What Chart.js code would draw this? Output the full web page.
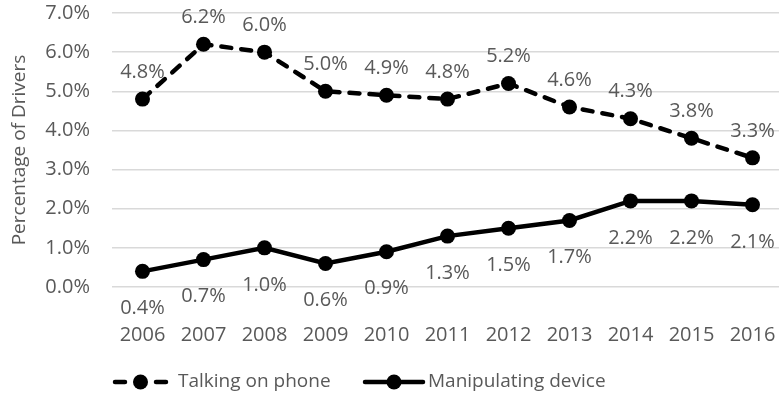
<!DOCTYPE html>
<html>
<head>
<meta charset="utf-8">
<script src="https://cdn.jsdelivr.net/npm/chart.js@4/dist/chart.umd.min.js"></script>
<style>
  html, body { margin: 0; padding: 0; background: #fff; overflow: hidden; }
  #wrap { position: relative; width: 783px; height: 400px; }
</style>
</head>
<body>
<div id="wrap"><canvas id="driversChart"></canvas></div>
<script>
// Años y porcentajes de conductores
const years = ['2006', '2007', '2008', '2009', '2010', '2011', '2012', '2013', '2014', '2015', '2016'];
const talkingPhone = [4.8, 6.2, 6.0, 5.0, 4.9, 4.8, 5.2, 4.6, 4.3, 3.8, 3.3];
const manipulatingDevice = [0.4, 0.7, 1.0, 0.6, 0.9, 1.3, 1.5, 1.7, 2.2, 2.2, 2.1];
const seriesNames = ['Talking on phone', 'Manipulating device'];

const textColor = '#595959';
const fontFamily = '"Open Sans", "Noto Sans", sans-serif';
const fontSize = 20;

// Etiquetas de valor: encima para la serie discontinua, debajo para la continua
const valueLabels = {
    id: 'valueLabels',
    afterDatasetsDraw(chart) {
        const ctx = chart.ctx;
        ctx.save();
        ctx.font = fontSize + 'px ' + fontFamily;
        ctx.fillStyle = textColor;
        ctx.textAlign = 'center';
        ctx.textBaseline = 'middle';
        chart.data.datasets.forEach((ds, i) => {
            const meta = chart.getDatasetMeta(i);
            meta.data.forEach((pt, j) => {
                const dy = ds.labelAbove ? -27 : 37;
                ctx.fillText(ds.data[j].toFixed(1) + '%', pt.x, pt.y + dy);
            });
        });
        ctx.restore();
    }
};

// Leyenda propia con la muestra de línea y marcador
const lineLegend = {
    id: 'lineLegend',
    afterDraw(chart) {
        const ctx = chart.ctx;
        const y = 382;
        const items = [
            { x0: 112, x1: 169, textX: 178 },
            { x0: 363, x1: 425, textX: 428 }
        ];
        ctx.save();
        chart.data.datasets.forEach((ds, i) => {
            const it = items[i];
            ctx.strokeStyle = ds.borderColor;
            ctx.lineWidth = ds.borderWidth;
            ctx.lineCap = 'round';
            ctx.beginPath();
            if (ds.borderDash) {
                // dos trazos cortos a cada lado del marcador
                ctx.moveTo(it.x0 + 3, y);
                ctx.lineTo(it.x0 + 13, y);
                ctx.moveTo(it.x1 - 13, y);
                ctx.lineTo(it.x1 - 3, y);
            } else {
                ctx.moveTo(it.x0 + 2, y);
                ctx.lineTo(it.x1 - 2, y);
            }
            ctx.stroke();
            ctx.fillStyle = ds.pointBackgroundColor;
            ctx.beginPath();
            ctx.arc((it.x0 + it.x1) / 2, y, ds.pointRadius, 0, Math.PI * 2);
            ctx.fill();
            ctx.font = '19px ' + fontFamily;
            ctx.fillStyle = textColor;
            ctx.textAlign = 'left';
            ctx.textBaseline = 'middle';
            ctx.fillText(ds.label, it.textX, y);
        });
        ctx.restore();
    }
};

new Chart(document.getElementById('driversChart'), {
    type: 'line',
    data: {
        labels: years,
        datasets: [{
            label: seriesNames[0],
            data: talkingPhone,
            borderColor: '#000',
            borderWidth: 4.5,
            borderDash: [10, 10],
            borderCapStyle: 'round',
            pointRadius: 7.5,
            pointBackgroundColor: '#000',
            pointBorderWidth: 0,
            tension: 0,
            labelAbove: true
        }, {
            label: seriesNames[1],
            data: manipulatingDevice,
            borderColor: '#000',
            borderWidth: 4.5,
            pointRadius: 7.5,
            pointBackgroundColor: '#000',
            pointBorderWidth: 0,
            tension: 0,
            labelAbove: false
        }]
    },
    options: {
        responsive: true,
        maintainAspectRatio: false,
        animation: false,
        layout: { autoPadding: false, padding: { top: 0, right: 0, bottom: 17, left: 0 } },
        plugins: {
            legend: { display: false },
            tooltip: { enabled: false }
        },
        scales: {
            x: {
                offset: true,
                grid: { display: false, drawTicks: false },
                border: { display: false },
                ticks: {
                    color: textColor,
                    padding: 36,
                    maxRotation: 0,
                    font: { family: fontFamily, size: fontSize }
                },
                // el relleno de las etiquetas no debe estrechar el área
                afterFit: s => { s.paddingLeft = 0; s.paddingRight = 0; }
            },
            y: {
                min: 0,
                max: 7,
                grid: { color: '#d9d9d9', lineWidth: 1.5, drawTicks: false },
                border: { display: false },
                ticks: {
                    stepSize: 1,
                    color: textColor,
                    padding: 22,
                    font: { family: fontFamily, size: fontSize },
                    callback: v => v.toFixed(1) + '%'
                },
                afterFit: s => { s.width = 112; s.paddingTop = 13; s.paddingBottom = 0; },
                title: {
                    display: true,
                    text: 'Percentage of Drivers',
                    color: textColor,
                    padding: { top: 8, bottom: 0 },
                    font: { family: fontFamily, size: 19 }
                }
            }
        }
    },
    plugins: [valueLabels, lineLegend]
});
</script>
</body>
</html>
